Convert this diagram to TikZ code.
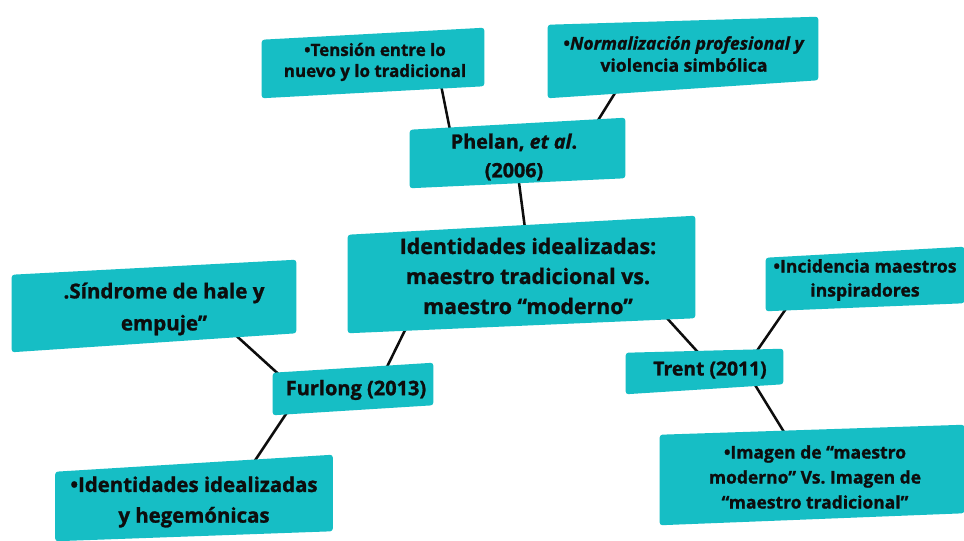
\documentclass[tikz,border=0pt]{standalone}
\usepackage{fontspec}
\setmainfont{Open Sans}[BoldFeatures={FakeBold=1.2}, BoldItalicFeatures={FakeBold=1.2}]
\frenchspacing
\definecolor{tealbox}{HTML}{16BEC5}
\definecolor{ink}{HTML}{0D0D0D}
\pgfdeclarelayer{bg}\pgfdeclarelayer{lines}\pgfdeclarelayer{fills}
\pgfsetlayers{bg,lines,fills,main}
\newcommand\blob[7]{%
  \fill[tealbox, rounded corners=2pt]
    ([shift={(#2,{#3+#4})}]#1.north west) -- ([shift={(#2,{#3+#5})}]#1.north east)
    -- ([shift={(#2,{#3+#6})}]#1.south east) -- ([shift={(#2,{#3+#7})}]#1.south west) -- cycle;}
\tikzset{
  box/.style={inner sep=0pt, align=center, text=ink, font=\bfseries},
  link/.style={line width=1.9pt, draw=ink},
}
\begin{document}
\begin{tikzpicture}[x=0.75pt, y=-0.75pt]
\useasboundingbox (0,0) rectangle (964,541);
\begin{pgfonlayer}{bg}
\fill[white] (0,0) rectangle (964,541);
\end{pgfonlayer}
% nodes
\node[box, minimum width=166.5pt, minimum height=52.5pt, font=\bfseries\fontsize{12.7}{15.75}\selectfont] (ten) at (375,62) {•Tensión entre lo\\nuevo y lo tradicional};
\node[box, minimum width=202.5pt, minimum height=63pt, font=\bfseries\fontsize{13.2}{16.5}\selectfont] (norm) at (684,54) {•\textit{Normalización profesional y}\\violencia simbólica};
\node[box, minimum width=161.25pt, minimum height=52.5pt, font=\bfseries\fontsize{14.8}{21.5}\selectfont] (phel) at (514,157) {Phelan, \textit{et al}.\\(2006)};
\node[box, minimum width=260.25pt, minimum height=87.75pt, font=\bfseries\fontsize{16}{22.5}\selectfont] (cent) at (528,276) {Identidades idealizadas:\\maestro tradicional vs.\\maestro “moderno”};
\node[box, minimum width=213pt, minimum height=69pt, font=\bfseries\fontsize{15.4}{24}\selectfont] (sind) at (164,309) {.Síndrome de hale y\\empuje”};
\node[box, minimum width=120pt, minimum height=39pt, font=\bfseries\fontsize{15}{18}\selectfont] (furl) at (356,390) {Furlong (2013)};
\node[box, minimum width=207.75pt, minimum height=64.5pt, font=\bfseries\fontsize{15.3}{23}\selectfont] (hege) at (194,502) {•Identidades idealizadas\\y hegemónicas};
\node[box, minimum width=148.5pt, minimum height=48pt, font=\bfseries\fontsize{13.2}{18}\selectfont] (inci) at (865,280) {•Incidencia maestros\\inspiradores};
\node[box, minimum width=117.75pt, minimum height=33.75pt, font=\bfseries\fontsize{14.5}{18}\selectfont] (trent) at (710,370) {Trent (2011)};
\node[box, minimum width=228pt, minimum height=75pt, font=\bfseries\fontsize{13.1}{18.75}\selectfont] (imag) at (815,477) {•Imagen de “maestro\\moderno” Vs. Imagen de\\“maestro tradicional”};
% fills
\begin{pgfonlayer}{fills}
\blob{ten}{-2}{1}{12}{0}{-12}{0}
\blob{norm}{-1}{2}{11}{3}{-18}{0}
\blob{phel}{3.5}{-4}{12}{0}{-10}{0}
\blob{cent}{-6.5}{-1.5}{19}{0}{-15}{0}
\blob{sind}{-10}{-3}{15}{0}{-19}{0}
\blob{furl}{-3}{-1}{10}{0}{-10}{0}
\blob{hege}{0}{-4}{17}{0}{-10}{0}
\blob{inci}{0}{-1}{11}{0}{-8}{0}
\blob{trent}{-5.5}{1.5}{4}{0}{-10}{0}
\blob{imag}{-3}{-2}{10}{0}{-12}{0}
\end{pgfonlayer}
% connectors
\begin{pgfonlayer}{lines}
\draw[link] ([shift={(66,23)}]ten.center) -- ([shift={(-63,-22)}]phel.center);
\draw[link] ([shift={(-64,31)}]norm.center) -- ([shift={(78,-27)}]phel.center);
\draw[link] ([shift={(4,18)}]phel.center) -- ([shift={(-2,-40)}]cent.center);
\draw[link] ([shift={(-118,44)}]cent.center) -- ([shift={(27,-15)}]furl.center);
\draw[link] ([shift={(127,29)}]cent.center) -- ([shift={(-5,-10)}]trent.center);
\draw[link] ([shift={(66,21)}]sind.center) -- ([shift={(-71,-10)}]furl.center);
\draw[link] ([shift={(-64,15)}]furl.center) -- ([shift={(58,-37)}]hege.center);
\draw[link] ([shift={(42,10)}]trent.center) -- ([shift={(-23,-32)}]imag.center);
\draw[link] ([shift={(-73,20)}]inci.center) -- ([shift={(42,-12)}]trent.center);
\end{pgfonlayer}
\end{tikzpicture}
\end{document}
